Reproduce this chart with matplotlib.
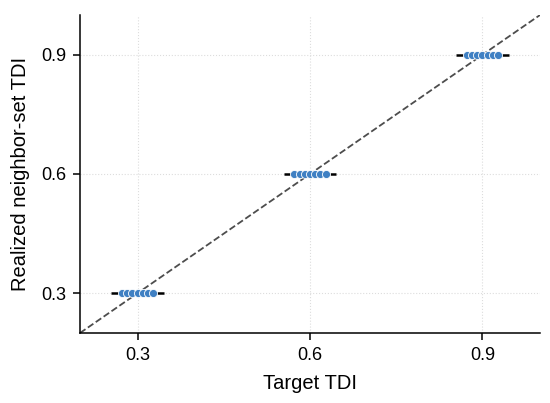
import matplotlib
matplotlib.use("Agg")
import matplotlib.pyplot as plt
import numpy as np

plt.rcParams['font.family'] = ['Liberation Sans', 'DejaVu Sans']

targets = [0.3, 0.6, 0.9]
offsets = [-0.027, -0.018, -0.009, 0.0, 0.009, 0.018, 0.027]
realized = {
    0.3: [0.3, 0.3, 0.3, 0.3, 0.3, 0.3, 0.3],
    0.6: [0.6, 0.6, 0.6, 0.6, 0.6, 0.6, 0.6],
    0.9: [0.9, 0.9, 0.9, 0.9, 0.9, 0.9, 0.9],
}
bar_half = 0.046
ticks = [0.3, 0.6, 0.9]
tick_labels = ["0.3", "0.6", "0.9"]

fig = plt.figure(figsize=(5.5, 4.03), dpi=100)
ax = fig.add_axes([80/550, 70/403, 460/550, 318/403])

ax.plot([0.2, 1.0], [0.2, 1.0], ls='--', color='#4d4d4d', lw=1.3, zorder=1)
for t in targets:
    ys = realized[t]
    ax.hlines(np.mean(ys), t - bar_half, t + bar_half, color='black', lw=1.8, zorder=2)
    xs = [t + o for o in offsets]
    ax.scatter(xs, ys, s=34, color='#3f80c3', edgecolor='white', linewidth=0.6, zorder=3)

ax.set_xlim(0.2, 1.0)
ax.set_ylim(0.2, 1.0)
ax.set_xticks(ticks)
ax.set_xticklabels(tick_labels)
ax.set_yticks(ticks)
ax.set_yticklabels(tick_labels)
ax.grid(True, ls=':', color='#dddddd', lw=0.8)
ax.set_axisbelow(True)
for s in ['top', 'right']:
    ax.spines[s].set_visible(False)
for s in ['left', 'bottom']:
    ax.spines[s].set_linewidth(1.1)
ax.tick_params(labelsize=13, length=5, width=1.1, direction='out', pad=5)
ax.set_xlabel("Target TDI", fontsize=14.5, labelpad=7)
ax.set_ylabel("Realized neighbor-set TDI", fontsize=14.5, labelpad=8)

fig.savefig("out.png", dpi=100)
